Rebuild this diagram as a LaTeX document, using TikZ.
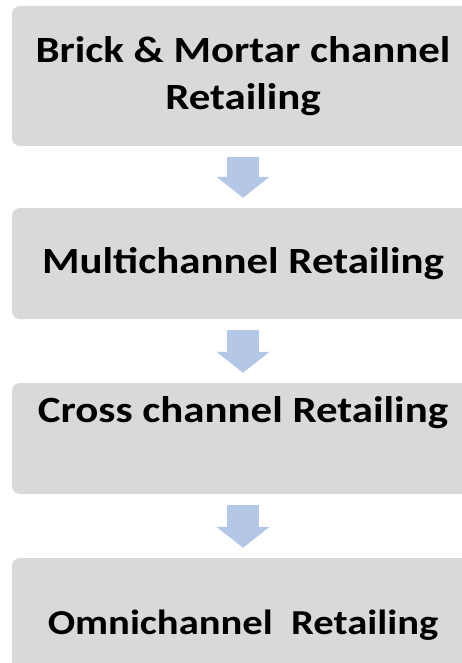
\documentclass[tikz,border=0pt]{standalone}
\usepackage{fontspec}
\setmainfont{Carlito}[FakeStretch=1.16]
\usepackage{xcolor}
\usetikzlibrary{arrows.meta}

\definecolor{boxgray}{HTML}{D9D9D9}
\definecolor{arrowblue}{HTML}{B4C7E7}

\begin{document}
\begin{tikzpicture}[
    x=1pt, y=-1pt,
    stage/.style={fill=boxgray, rounded corners=8pt, align=center,
                  minimum width=462pt, inner sep=0pt,
                  font=\bfseries\fontsize{37}{47}\selectfont},
    flow/.style={-{Triangle[width=52pt,length=21pt]}, line width=32pt,
                 draw=arrowblue, shorten <=10.5pt, shorten >=10pt}
]
\useasboundingbox (0,0) rectangle (462,663);

\node[stage, minimum height=140pt] (brick) at (243,76) {Brick \& Mortar channel\\Retailing};
\node[stage, minimum height=111pt] (multi) at (243,263.5) {Multichannel Retailing};
\node[stage, minimum height=111pt, text depth=58pt] (cross) at (243,438.5) {Cross channel Retailing};
\node[stage, minimum height=134pt, font=\bfseries\fontsize{35}{47}\selectfont]
    (omni) at (243,625) {Omnichannel\ \ Retailing};

\draw[flow] (brick) -- (multi);
\draw[flow] (multi) -- (cross);
\draw[flow] (cross) -- (omni);
\end{tikzpicture}
\end{document}
